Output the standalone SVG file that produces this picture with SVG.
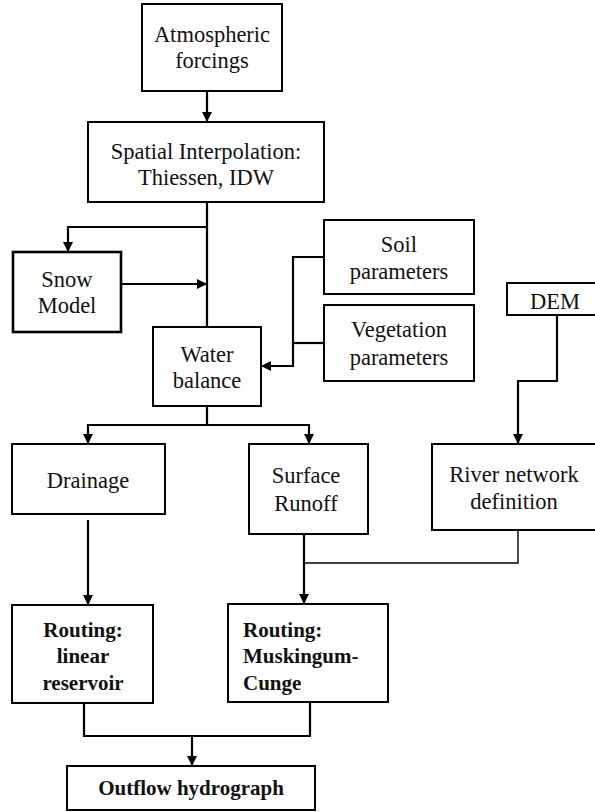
<svg xmlns="http://www.w3.org/2000/svg" width="595" height="812" viewBox="0 0 595 812">
<defs>
<marker id="ah" viewBox="0 0 10 10" refX="10" refY="5" markerWidth="10" markerHeight="10" markerUnits="userSpaceOnUse" orient="auto">
<path d="M0,0 L10,5 L0,10 Z" fill="#000"/>
</marker>
</defs>
<style>
rect{fill:#fff;stroke:#000;stroke-width:2}
text{font-family:"Liberation Serif","Times New Roman",serif;font-size:22.5px;fill:#111;text-anchor:middle}
.b{font-weight:bold;font-size:21px}
.l{text-anchor:start}
.c{fill:none;stroke:#000;stroke-width:2.2}
.t{fill:none;stroke:#000;stroke-width:1.4}
</style>
<rect x="0" y="0" width="595" height="812" style="fill:#fff;stroke:none"/>
<g id="connectors">
<path class="c" d="M207,91 V122" marker-end="url(#ah)"/>
<path class="c" d="M207,202 V327"/>
<path class="c" d="M207,227 H68 V252" marker-end="url(#ah)"/>
<path class="c" d="M121,284 H207" marker-end="url(#ah)"/>
<path class="c" d="M324,257 H293 V366 H261" marker-end="url(#ah)"/>
<path class="c" d="M324,343 H293"/>
<path class="c" d="M557,315 V381 H518 V444" marker-end="url(#ah)"/>
<path class="c" d="M207,406 V425 H88 V444" marker-end="url(#ah)"/>
<path class="c" d="M207,425 H309 V444" marker-end="url(#ah)"/>
<path class="c" d="M88,520 V605" marker-end="url(#ah)"/>
<path class="t" d="M518,530 V563 H304"/>
<path class="c" d="M304,534 V604" marker-end="url(#ah)"/>
<path class="c" d="M84,703 V736 H310 V702"/>
<path class="c" d="M192,736 V766" marker-end="url(#ah)"/>
</g>
<g id="atmospheric">
<rect x="142" y="4" width="140" height="87"/>
<text x="212" y="42">Atmospheric</text>
<text x="212" y="68">forcings</text>
</g>
<g id="spatial">
<rect x="88" y="122" width="236" height="80"/>
<text x="206" y="159">Spatial Interpolation:</text>
<text x="206" y="185">Thiessen, IDW</text>
</g>
<g id="snow">
<rect x="13" y="252" width="108" height="80" style="stroke-width:2.6"/>
<text x="67" y="287">Snow</text>
<text x="67" y="313">Model</text>
</g>
<g id="water">
<rect x="153" y="327" width="108" height="79"/>
<text x="207" y="362">Water</text>
<text x="207" y="388">balance</text>
</g>
<g id="soil">
<rect x="324" y="220" width="150" height="74"/>
<text x="399" y="252">Soil</text>
<text x="399" y="279">parameters</text>
</g>
<g id="vegetation">
<rect x="324" y="305" width="150" height="76"/>
<text x="399" y="337">Vegetation</text>
<text x="399" y="365">parameters</text>
</g>
<g id="dem">
<rect x="507" y="283" width="100" height="32"/>
<text x="555" y="309">DEM</text>
</g>
<g id="drainage">
<rect x="12" y="444" width="153" height="70"/>
<text x="88" y="488">Drainage</text>
</g>
<g id="surface">
<rect x="249" y="444" width="119" height="90"/>
<text x="306" y="483">Surface</text>
<text x="306" y="511">Runoff</text>
</g>
<g id="river">
<rect x="432" y="444" width="170" height="86"/>
<text x="514" y="482">River network</text>
<text x="514" y="509">definition</text>
</g>
<g id="routing-linear">
<rect x="12" y="605" width="141" height="98"/>
<text class="b" x="83" y="637">Routing:</text>
<text class="b" x="83" y="663">linear</text>
<text class="b" x="83" y="690">reservoir</text>
</g>
<g id="routing-mc">
<rect x="228" y="604" width="160" height="98"/>
<text class="b l" x="243" y="637">Routing:</text>
<text class="b l" x="243" y="663">Muskingum-</text>
<text class="b l" x="243" y="690">Cunge</text>
</g>
<g id="outflow">
<rect x="67" y="766" width="248" height="44"/>
<text class="b" x="191" y="795">Outflow hydrograph</text>
</g>
</svg>
